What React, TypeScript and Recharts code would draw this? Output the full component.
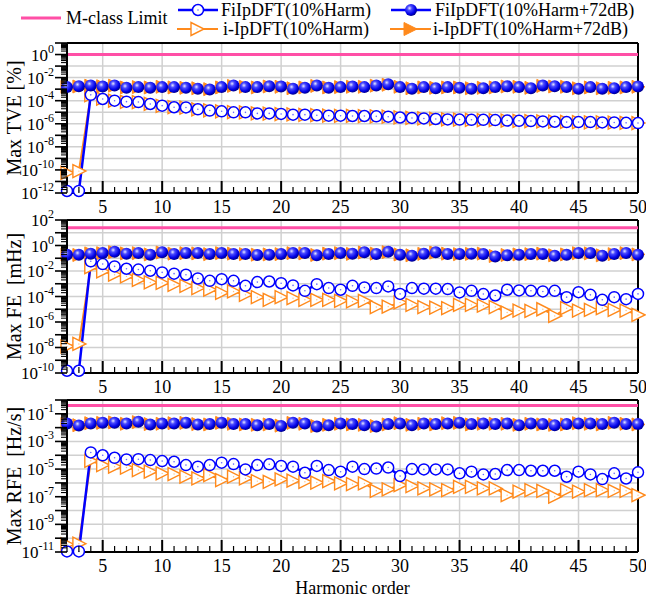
import React from 'react';
import { LineChart, Line, XAxis, YAxis, CartesianGrid, ReferenceLine } from 'recharts';

const BLUE = '#0000ff';
const ORANGE = '#ff8a1c';
const PINK = '#ff4fa6';
const GRID = '#d0d0d0';
const FONT = 'Liberation Serif';

// harmonic order on the x axis
const harmonics = [
  2, 3, 4, 5, 6, 7, 8, 9, 10, 11, 12, 13, 14, 15, 16, 17, 18, 19, 20, 21, 22, 23, 24, 25, 26,
  27, 28, 29, 30, 31, 32, 33, 34, 35, 36, 37, 38, 39, 40, 41, 42, 43, 44, 45, 46, 47, 48, 49, 50,
];
const xGridValues = [5, 10, 15, 20, 25, 30, 35, 40, 45];

// M-class limits
const tveLimit = 1;
const feLimit = 25;
const rfeLimit = 0.4;

// decade ticks and which exponents get a label
const tveDecades = [1e-12, 1e-11, 1e-10, 1e-9, 1e-8, 1e-7, 1e-6, 1e-5, 1e-4, 1e-3, 1e-2, 1e-1, 1e0, 1e1];
const tveLabels = [0, -2, -4, -6, -8, -10, -12];
const feDecades = [1e-10, 1e-9, 1e-8, 1e-7, 1e-6, 1e-5, 1e-4, 1e-3, 1e-2, 1e-1, 1e0, 1e1, 1e2];
const feLabels = [2, 0, -2, -4, -6, -8, -10];
const rfeDecades = [1e-11, 1e-10, 1e-9, 1e-8, 1e-7, 1e-6, 1e-5, 1e-4, 1e-3, 1e-2, 1e-1, 1e0];
const rfeLabels = [-1, -3, -5, -7, -9, -11];

// TVE [%]
const tveFiHarm = [
  1.5e-12, 1.5e-12, 3.2e-4, 1.4e-4, 1.0e-4, 8.3e-5, 7.6e-5, 5.2e-5, 3.7e-5, 2.7e-5, 2.6e-5, 1.8e-5,
  1.4e-5, 1.2e-5, 9.8e-6, 9.8e-6, 7.9e-6, 7.9e-6, 7.1e-6, 6.2e-6, 6.2e-6, 5.4e-6, 5.0e-6, 5.0e-6,
  4.7e-6, 4.7e-6, 4.4e-6, 4.1e-6, 3.5e-6, 3.2e-6, 2.9e-6, 2.6e-6, 2.4e-6, 2.3e-6, 2.2e-6, 2.2e-6,
  2.1e-6, 1.9e-6, 1.8e-6, 1.7e-6, 1.6e-6, 1.5e-6, 1.4e-6, 1.4e-6, 1.4e-6, 1.3e-6, 1.3e-6, 1.2e-6, 1.15e-6,
];
const tveFiNoise = [
  1.5e-3, 1.8e-3, 2.1e-3, 1.7e-3, 2.1e-3, 1.3e-3, 1.5e-3, 1.3e-3, 1.5e-3, 1.5e-3, 1.3e-3, 1.1e-3,
  9.3e-4, 1.5e-3, 2.1e-3, 1.5e-3, 1.5e-3, 1.8e-3, 1.7e-3, 1.1e-3, 1.3e-3, 2.1e-3, 1.3e-3, 1.5e-3,
  1.7e-3, 1.5e-3, 2.1e-3, 2.6e-3, 1.5e-3, 1.1e-3, 1.5e-3, 1.2e-3, 1.5e-3, 1.3e-3, 1.1e-3, 1.2e-3,
  1.5e-3, 1.8e-3, 1.5e-3, 1.2e-3, 2.1e-3, 1.8e-3, 1.5e-3, 1.1e-3, 1.5e-3, 1.1e-3, 1.2e-3, 1.5e-3, 1.7e-3,
];
const tveIHarm = [
  5.6e-11, 7.9e-11, 3.0e-4, 1.5e-4, 1.0e-4, 8.0e-5, 7.4e-5, 5.4e-5, 3.6e-5, 2.8e-5, 2.5e-5, 1.8e-5,
  1.45e-5, 1.2e-5, 1.0e-5, 9.5e-6, 8.1e-6, 7.7e-6, 7.0e-6, 6.4e-6, 6.0e-6, 5.5e-6, 5.1e-6, 4.9e-6,
  4.8e-6, 4.6e-6, 4.3e-6, 4.1e-6, 3.6e-6, 3.2e-6, 3.0e-6, 2.6e-6, 2.4e-6, 2.3e-6, 2.2e-6, 2.1e-6,
  2.1e-6, 1.9e-6, 1.8e-6, 1.7e-6, 1.6e-6, 1.5e-6, 1.45e-6, 1.4e-6, 1.35e-6, 1.3e-6, 1.25e-6, 1.2e-6, 1.15e-6,
];
const tveINoise = [
  1.6e-3, 1.7e-3, 2.0e-3, 1.8e-3, 2.0e-3, 1.4e-3, 1.5e-3, 1.4e-3, 1.6e-3, 1.4e-3, 1.3e-3, 1.2e-3,
  1.0e-3, 1.4e-3, 1.9e-3, 1.6e-3, 1.4e-3, 1.7e-3, 1.6e-3, 1.2e-3, 1.4e-3, 1.9e-3, 1.4e-3, 1.5e-3,
  1.6e-3, 1.6e-3, 2.0e-3, 2.4e-3, 1.6e-3, 1.2e-3, 1.4e-3, 1.3e-3, 1.4e-3, 1.4e-3, 1.2e-3, 1.3e-3,
  1.4e-3, 1.7e-3, 1.6e-3, 1.3e-3, 1.9e-3, 1.7e-3, 1.6e-3, 1.2e-3, 1.4e-3, 1.2e-3, 1.3e-3, 1.4e-3, 1.6e-3,
];

// FE [mHz]
const feFiHarm = [
  1.5e-10, 1.5e-10, 5.8e-2, 3.5e-2, 2.3e-2, 1.5e-2, 1.3e-2, 1.05e-2, 7.8e-3, 6.2e-3, 5.1e-3, 2.6e-3,
  1.7e-3, 2.3e-3, 1.7e-3, 6.9e-4, 1.35e-3, 1.5e-3, 1.1e-3, 7.4e-4, 2.8e-4, 9.3e-4, 4.6e-4, 3.4e-4,
  6.9e-4, 5.1e-4, 4.6e-4, 6.2e-4, 1.6e-4, 4.6e-4, 4.1e-4, 4.1e-4, 3.8e-4, 2.1e-4, 2.8e-4, 1.55e-4,
  1.2e-4, 3.4e-4, 3.0e-4, 2.8e-4, 2.5e-4, 2.8e-4, 8.9e-5, 2.2e-4, 1.35e-4, 5.5e-5, 8.9e-5, 6.2e-5, 1.6e-4,
];
const feFiNoise = [
  0.19, 0.19, 0.23, 0.26, 0.32, 0.23, 0.26, 0.19, 0.3, 0.22, 0.26, 0.26, 0.22, 0.26, 0.22, 0.22,
  0.18, 0.19, 0.22, 0.26, 0.26, 0.17, 0.22, 0.26, 0.23, 0.3, 0.22, 0.32, 0.19, 0.16, 0.23, 0.3,
  0.22, 0.22, 0.23, 0.22, 0.14, 0.17, 0.19, 0.22, 0.22, 0.16, 0.19, 0.26, 0.26, 0.16, 0.22, 0.26, 0.19,
];
const feIHarm = [
  1.2e-8, 1.9e-8, 2.0e-2, 9.3e-3, 5.1e-3, 3.8e-3, 2.0e-3, 1.26e-3, 1.15e-3, 8.3e-4, 6.9e-4, 4.6e-4,
  3.4e-4, 1.9e-4, 2.5e-4, 1.35e-4, 8.9e-5, 5.5e-5, 8.9e-5, 7.4e-5, 5.5e-5, 5.5e-5, 5.5e-5, 4.6e-5,
  4.1e-5, 4.6e-5, 1.5e-5, 1.6e-5, 3.4e-5, 2.2e-5, 1.5e-5, 1.35e-5, 1.2e-5, 2.2e-5, 2.2e-5, 1.9e-5,
  1.5e-5, 5.5e-6, 7.9e-6, 7.4e-6, 1.0e-5, 3.0e-6, 1.2e-5, 7.9e-6, 8.9e-6, 1.2e-5, 8.9e-6, 7.9e-6, 3.6e-6,
];
const feINoise = [
  0.2, 0.18, 0.24, 0.25, 0.3, 0.24, 0.25, 0.2, 0.28, 0.23, 0.25, 0.24, 0.21, 0.25, 0.23, 0.21,
  0.19, 0.2, 0.21, 0.25, 0.24, 0.18, 0.23, 0.25, 0.22, 0.28, 0.23, 0.3, 0.2, 0.17, 0.22, 0.28,
  0.23, 0.21, 0.22, 0.23, 0.15, 0.18, 0.2, 0.21, 0.23, 0.17, 0.2, 0.25, 0.24, 0.17, 0.21, 0.25, 0.2,
];

// RFE [Hz/s]
const rfeFiHarm = [
  1.1e-11, 1.1e-11, 1.6e-4, 1.0e-4, 6.6e-5, 5.0e-5, 5.2e-5, 4.5e-5, 3.8e-5, 3.4e-5, 1.95e-5, 1.5e-5,
  1.95e-5, 2.9e-5, 2.3e-5, 9.5e-6, 1.95e-5, 2.2e-5, 1.7e-5, 1.5e-5, 5.4e-6, 1.7e-5, 8.5e-6, 6.5e-6,
  1.5e-5, 1.0e-5, 1.1e-5, 1.3e-5, 3.1e-6, 1.0e-5, 9.5e-6, 9.5e-6, 9.5e-6, 4.9e-6, 6.5e-6, 4.1e-6,
  4.4e-6, 8.5e-6, 8.5e-6, 7.6e-6, 7.6e-6, 7.6e-6, 2.8e-6, 6.5e-6, 4.1e-6, 1.9e-6, 4.9e-6, 2.1e-6, 5.8e-6,
];
const rfeFiNoise = [
  0.02, 0.014, 0.02, 0.023, 0.023, 0.02, 0.027, 0.017, 0.02, 0.02, 0.023, 0.017, 0.018, 0.023, 0.018, 0.018,
  0.015, 0.018, 0.013, 0.023, 0.02, 0.012, 0.015, 0.02, 0.018, 0.015, 0.012, 0.018, 0.02, 0.015, 0.02, 0.018,
  0.02, 0.023, 0.018, 0.02, 0.018, 0.02, 0.015, 0.02, 0.018, 0.015, 0.018, 0.02, 0.02, 0.018, 0.023, 0.018, 0.018,
];
const rfeIHarm = [
  3.5e-11, 4.0e-11, 4.0e-5, 1.95e-5, 1.5e-5, 1.3e-5, 8.5e-6, 6.5e-6, 4.9e-6, 4.4e-6, 2.8e-6, 2.1e-6,
  3.7e-6, 1.6e-6, 2.8e-6, 2.1e-6, 1.35e-6, 1.2e-6, 1.8e-6, 1.45e-6, 1.2e-6, 1.07e-6, 1.35e-6, 9.1e-7,
  8.1e-7, 9.1e-7, 2.7e-7, 3.4e-7, 6.9e-7, 5.9e-7, 4.0e-7, 3.4e-7, 3.0e-7, 5.2e-7, 5.2e-7, 4.0e-7,
  4.0e-7, 1.3e-7, 2.3e-7, 3.0e-7, 2.7e-7, 1.0e-7, 3.0e-7, 2.3e-7, 3.0e-7, 3.0e-7, 2.7e-7, 2.7e-7, 1.3e-7,
];
const rfeINoise = [
  0.019, 0.015, 0.021, 0.022, 0.024, 0.019, 0.025, 0.018, 0.019, 0.021, 0.022, 0.018, 0.017, 0.022, 0.019, 0.017,
  0.016, 0.017, 0.014, 0.022, 0.019, 0.013, 0.016, 0.019, 0.017, 0.016, 0.013, 0.017, 0.021, 0.016, 0.019, 0.017,
  0.021, 0.022, 0.017, 0.019, 0.019, 0.019, 0.016, 0.019, 0.017, 0.016, 0.017, 0.021, 0.019, 0.017, 0.022, 0.019, 0.017,
];

const buildRows = (fiH: number[], fiN: number[], iH: number[], iN: number[]) =>
  harmonics.map((h, i) => ({ h, fiH: fiH[i], fiN: fiN[i], iH: iH[i], iN: iN[i] }));

// decade ticks plus 2..9 minor ticks inside every decade
const withMinorTicks = (decades: number[]) => {
  const out: number[] = [];
  decades.forEach((d, i) => {
    out.push(d);
    if (i < decades.length - 1) for (let k = 2; k <= 9; k++) out.push(k * d);
  });
  return out;
};

const textStyle = { fontFamily: FONT };

// ---- markers ----
const OpenCircle = ({ cx, cy, r = 5.5 }: any) => (
  <g>
    <circle cx={cx} cy={cy} r={r} fill="#fff" stroke={BLUE} strokeWidth={1.5} />
    <circle cx={cx} cy={cy} r={0.8} fill="#6a6aff" />
  </g>
);
const Sphere = ({ cx, cy, grad, r = 6 }: any) => <circle cx={cx} cy={cy} r={r} fill={`url(#${grad})`} />;
const triPoints = (cx: number, cy: number) => `${cx - 6},${cy - 6.5} ${cx + 7},${cy} ${cx - 6},${cy + 6.5}`;
const OpenTri = ({ cx, cy }: any) => (
  <g>
    <polygon points={triPoints(cx, cy)} fill="#fff" stroke={ORANGE} strokeWidth={1.4} />
    <circle cx={cx} cy={cy} r={0.7} fill="#ffc080" />
  </g>
);
const FilledTri = ({ cx, cy }: any) => <polygon points={triPoints(cx, cy)} fill={ORANGE} stroke={ORANGE} strokeWidth={1} />;

const SphereGradient = ({ id }: { id: string }) => (
  <radialGradient id={id} cx="38%" cy="35%" r="65%">
    <stop offset="0%" stopColor="#e8e8ff" />
    <stop offset="30%" stopColor="#4a4aff" />
    <stop offset="75%" stopColor="#0000e6" />
    <stop offset="100%" stopColor="#000090" />
  </radialGradient>
);

// ---- axis ticks ----
const YTick = ({ x, y, payload, labels }: any) => {
  const v = payload.value as number;
  const e = Math.round(Math.log10(v));
  const isDecade = Math.abs(v / Math.pow(10, e) - 1) < 1e-6;
  const len = isDecade ? 12 : 6;
  return (
    <g>
      <line x1={x - len} x2={x} y1={y} y2={y} stroke="#000" strokeWidth={isDecade ? 1.6 : 1.1} />
      {isDecade && labels.includes(e) && (
        <text x={x - 13} y={y + 6} textAnchor="end" fontSize={17} style={textStyle} fill="#000">
          10<tspan dy={-8} fontSize={12}>{e}</tspan>
        </text>
      )}
    </g>
  );
};

const XTick = ({ x, y, payload }: any) => {
  const h = payload.value as number;
  const major = h % 5 === 0;
  return (
    <g>
      <line x1={x} x2={x} y1={y} y2={y - (major ? 12 : 6)} stroke="#000" strokeWidth={major ? 2 : 1.2} />
      {major && (
        <text x={x} y={y + 20} textAnchor="middle" fontSize={18} style={textStyle} fill="#000">
          {h}
        </text>
      )}
    </g>
  );
};

const YLabel = ({ viewBox, text }: any) => (
  <text
    x={14}
    y={viewBox.y + viewBox.height / 2}
    transform={`rotate(-90, 14, ${viewBox.y + viewBox.height / 2})`}
    textAnchor="middle"
    dominantBaseline="central"
    fontSize={20}
    fill="#000"
    style={{ fontFamily: FONT, whiteSpace: 'pre' }}
  >
    {text}
  </text>
);

interface PanelProps {
  id: string;
  top: number;
  height: number;
  xAxisHeight: number;
  marginTop: number;
  decades: number[];
  labels: number[];
  limit: number;
  ylabel: string;
  rows: ReturnType<typeof buildRows>;
  xTitle?: string;
}

const Panel: React.FC<PanelProps> = ({ id, top, height, xAxisHeight, marginTop, decades, labels, limit, ylabel, rows, xTitle }) => {
  const grad = `sphere-${id}`;
  const domain = [decades[0], decades[decades.length - 1]];
  return (
    <div style={{ position: 'absolute', left: 0, top, width: 646, height }}>
      <LineChart width={646} height={height} data={rows} margin={{ top: marginTop, right: 8, left: 0, bottom: 0 }}>
        <defs>
          <SphereGradient id={grad} />
        </defs>
        <CartesianGrid horizontalValues={decades} verticalValues={xGridValues} stroke={GRID} strokeWidth={1.5} />
        <XAxis
          dataKey="h"
          type="number"
          domain={[2, 50]}
          ticks={harmonics}
          interval={0}
          height={xAxisHeight}
          tickSize={0}
          tickMargin={0}
          axisLine={{ stroke: '#000', strokeWidth: 2 }}
          tickLine={false}
          tick={<XTick />}
          label={xTitle ? { value: xTitle, position: 'insideBottom', offset: 4, fontSize: 18, style: textStyle, fill: '#000' } : undefined}
        />
        <YAxis
          scale="log"
          domain={domain}
          ticks={withMinorTicks(decades)}
          interval={0}
          width={67}
          tickSize={0}
          tickMargin={0}
          axisLine={{ stroke: '#000', strokeWidth: 2 }}
          tickLine={false}
          tick={<YTick labels={labels} />}
          label={<YLabel text={ylabel} />}
        />
        <ReferenceLine y={domain[1]} stroke="#000" strokeWidth={2} />
        <ReferenceLine x={50} stroke="#000" strokeWidth={2} />
        <ReferenceLine y={limit} stroke={PINK} strokeWidth={3} />
        <Line dataKey="iH" stroke={ORANGE} strokeWidth={2} isAnimationActive={false} activeDot={false}
          dot={(p: any) => <OpenTri key={`ih-${p.index}`} cx={p.cx} cy={p.cy} />} />
        <Line dataKey="iN" stroke={ORANGE} strokeWidth={2} isAnimationActive={false} activeDot={false}
          dot={(p: any) => <FilledTri key={`in-${p.index}`} cx={p.cx} cy={p.cy} />} />
        <Line dataKey="fiH" stroke={BLUE} strokeWidth={2.5} isAnimationActive={false} activeDot={false}
          dot={(p: any) => <OpenCircle key={`fh-${p.index}`} cx={p.cx} cy={p.cy} />} />
        <Line dataKey="fiN" stroke={BLUE} strokeWidth={2.5} isAnimationActive={false} activeDot={false}
          dot={(p: any) => <Sphere key={`fn-${p.index}`} cx={p.cx} cy={p.cy} grad={grad} />} />
      </LineChart>
    </div>
  );
};

const LegendBar = () => {
  const text = (x: number, y: number, s: string) => (
    <text x={x} y={y + 6} fontSize={18} style={textStyle} fill="#000">{s}</text>
  );
  return (
    <svg width={646} height={42} style={{ position: 'absolute', left: 0, top: 0 }}>
      <defs>
        <SphereGradient id="sphere-legend" />
      </defs>
      <line x1={21} x2={61} y1={18} y2={18} stroke={PINK} strokeWidth={3} />
      {text(66, 18, 'M-class Limit')}
      <line x1={178} x2={218} y1={10} y2={10} stroke={BLUE} strokeWidth={2.5} />
      <OpenCircle cx={198} cy={10} />
      {text(221, 10, 'FiIpDFT(10%Harm)')}
      <line x1={391} x2={431} y1={10} y2={10} stroke={BLUE} strokeWidth={2.5} />
      <Sphere cx={411} cy={10} grad="sphere-legend" />
      {text(435, 10, 'FiIpDFT(10%Harm+72dB)')}
      <line x1={177} x2={218} y1={29} y2={29} stroke={ORANGE} strokeWidth={2} />
      <OpenTri cx={197} cy={29} />
      {text(223, 29, 'i-IpDFT(10%Harm)')}
      <line x1={390} x2={431} y1={29} y2={29} stroke={ORANGE} strokeWidth={2} />
      <FilledTri cx={410} cy={29} />
      {text(433, 29, 'i-IpDFT(10%Harm+72dB)')}
    </svg>
  );
};

export default function App() {
  return (
    <div style={{ position: 'absolute', left: 0, top: 0, width: 646, height: 598, background: '#fff', fontFamily: FONT }}>
      <Panel id="tve" top={0} height={240} xAxisHeight={47} marginTop={43} decades={tveDecades} labels={tveLabels}
        limit={tveLimit} ylabel="Max TVE [%]" rows={buildRows(tveFiHarm, tveFiNoise, tveIHarm, tveINoise)} />
      <Panel id="fe" top={200} height={220} xAxisHeight={47} marginTop={20} decades={feDecades} labels={feLabels}
        limit={feLimit} ylabel={'Max FE\u00a0 [mHz]'} rows={buildRows(feFiHarm, feFiNoise, feIHarm, feINoise)} />
      <Panel id="rfe" top={380} height={218} xAxisHeight={46} marginTop={20} decades={rfeDecades} labels={rfeLabels}
        limit={rfeLimit} ylabel={'Max RFE\u00a0 [Hz/s]'} rows={buildRows(rfeFiHarm, rfeFiNoise, rfeIHarm, rfeINoise)}
        xTitle="Harmonic order" />
      <LegendBar />
    </div>
  );
}
